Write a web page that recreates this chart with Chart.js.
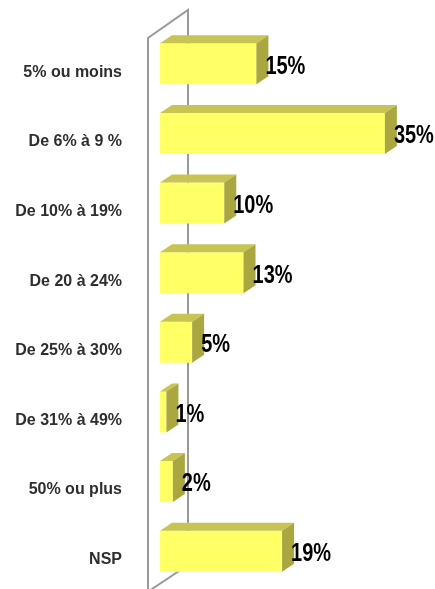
<!DOCTYPE html>
<html>
<head>
<meta charset="utf-8">
<script src="https://cdn.jsdelivr.net/npm/chart.js@4/dist/chart.umd.min.js"></script>
<style>
html,body{margin:0;padding:0;background:#fff;}
#wrap{width:435px;height:589px;position:relative;}
</style>
</head>
<body>
<div id="wrap"><canvas id="c" width="435" height="589"></canvas></div>
<script>
const categories = ["5% ou moins","De 6% à 9 %","De 10% à 19%","De 20 à 24%","De 25% à 30%","De 31% à 49%","50% ou plus","NSP"];
const values = [15, 35, 10, 13, 5, 1, 2, 19];
const valueLabels = ["15%","35%","10%","13%","5%","1%","2%","19%"];

const FRONT = '#FFFF66', TOP = '#C8C453', SIDE = '#ABA740';
const DX = 12, DY = -8;

const threeD = {
  id: 'threeD',
  beforeDatasetsDraw(chart) {
    const ctx = chart.ctx;
    ctx.save();
    ctx.strokeStyle = '#9a9a9a';
    ctx.lineWidth = 2;
    ctx.beginPath();
    ctx.moveTo(148, 592); ctx.lineTo(148, 38); ctx.lineTo(188, 10); ctx.lineTo(188, 565); ctx.lineTo(146, 593);
    ctx.stroke();
    ctx.restore();
  },
  afterDatasetsDraw(chart) {
    const ctx = chart.ctx;
    const meta = chart.getDatasetMeta(0);
    ctx.save();
    meta.data.forEach((bar) => {
      const h = bar.height;
      const top = bar.y - h / 2, bot = bar.y + h / 2;
      const l = bar.base, r = bar.x;
      ctx.fillStyle = TOP;
      ctx.beginPath();
      ctx.moveTo(l, top); ctx.lineTo(l + DX, top + DY); ctx.lineTo(r + DX, top + DY); ctx.lineTo(r, top);
      ctx.closePath(); ctx.fill();
      ctx.fillStyle = SIDE;
      ctx.beginPath();
      ctx.moveTo(r, top); ctx.lineTo(r + DX, top + DY); ctx.lineTo(r + DX, bot + DY); ctx.lineTo(r, bot);
      ctx.closePath(); ctx.fill();
    });
    ctx.restore();
  },
  afterDraw(chart) {
    const ctx = chart.ctx;
    const meta = chart.getDatasetMeta(0);
    const yScale = chart.scales.y;
    ctx.save();
    ctx.fillStyle = '#2e2e2e';
    ctx.font = 'bold 16px "Liberation Sans", Arial, sans-serif';
    ctx.textAlign = 'right';
    ctx.textBaseline = 'middle';
    categories.forEach((c, i) => {
      const y = yScale.getPixelForValue(i);
      ctx.fillText(c, 122, y + 8.5);
    });
    ctx.fillStyle = '#000';
    ctx.textAlign = 'left';
    ctx.font = 'bold 20px "Liberation Sans Narrow", "Arial Narrow", "Liberation Sans", sans-serif';
    meta.data.forEach((bar, i) => {
      ctx.save();
      ctx.translate(bar.x + 9, bar.y + 3);
      ctx.scale(1, 1.25);
      ctx.fillText(valueLabels[i], 0, 0);
      ctx.restore();
    });
    ctx.restore();
  }
};

new Chart(document.getElementById('c'), {
  type: 'bar',
  data: {
    labels: categories,
    datasets: [{
      data: values,
      backgroundColor: FRONT,
      borderWidth: 0,
      categoryPercentage: 1,
      barPercentage: 0.59
    }]
  },
  options: {
    indexAxis: 'y',
    responsive: false,
    animation: false,
    devicePixelRatio: 1,
    layout: { padding: { left: 160, right: 18, top: 29, bottom: 3 } },
    plugins: { legend: { display: false }, tooltip: { enabled: false } },
    scales: {
      x: { display: false, min: 0, max: 40 },
      y: { display: false }
    }
  },
  plugins: [threeD]
});
</script>
</body>
</html>
